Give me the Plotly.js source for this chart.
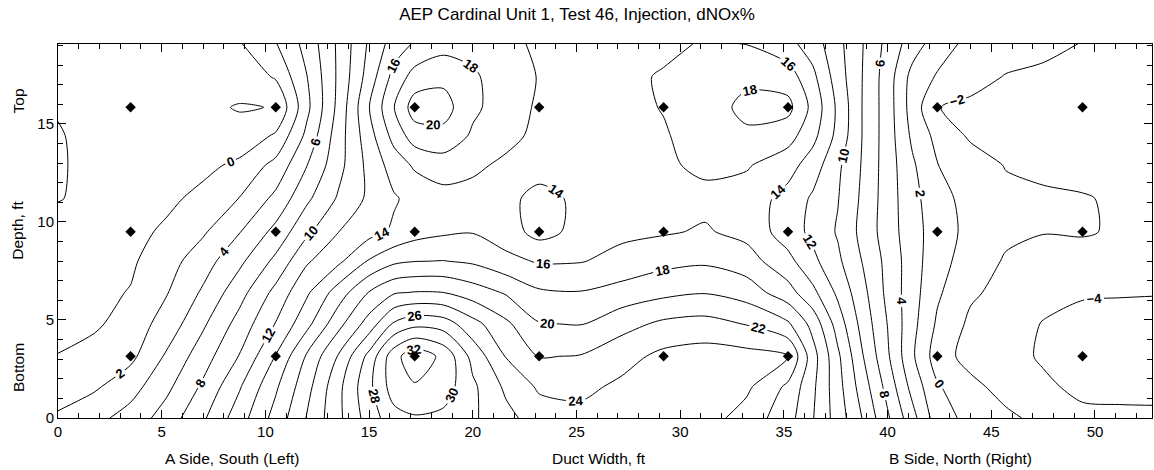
<!DOCTYPE html>
<html><head><meta charset="utf-8">
<script src="https://cdn.plot.ly/plotly-3.0.1.min.js"></script>
<style>html,body{margin:0;padding:0;background:#fff}#chart{width:1154px;height:470px}</style>
</head><body><div id="chart"></div>
<script>
const gridX = [0, 1.75, 3.5, 5.25, 7, 8.75, 10.5, 12, 13.5, 15, 16.2, 17.2, 18.6, 20, 21.6, 23.2, 25.2, 27.2, 29.2, 31.2, 33.2, 35.2, 36.4, 37.6, 38.8, 40, 41.2, 42.4, 44, 45.7, 47.5, 49.4, 51.2, 53];
const gridY = [0, 1.6, 3.15, 4.8, 6.4, 8, 9.5, 11.2, 12.9, 14.4, 15.85, 17.4, 19.1];

// dNOx% along each depth row (left to right)
const row_0_0   = [2.3, 3.4, 4.8, 6.9, 9.7, 13.1, 16.75, 20.1, 23.5, 26.9, 29.3, 29.8, 29.5, 28.3, 26.6, 25.0, 24.6, 25.1, 25.4, 24.8, 23.2, 20.8, 18.1, 15.1, 11.9, 8.3, 4.7, 0.9, -0.6, -1.55, -2.6, -3.6, -3.7, -3.8];
const row_1_6   = [1.0, 1.7, 3.2, 5.55, 8.35, 11.8, 15.7, 19.3, 23.4, 27.5, 31.0, 31.8, 31.0, 28.4, 25.6, 23.7, 23.5, 24.4, 25.2, 25.3, 24.4, 21.6, 18.4, 14.75, 11.0, 7.3, 3.3, 0.2, -1.4, -2.8, -3.7, -4.4, -4.4, -4.3];
const row_3_15  = [0.05, 0.85, 1.5, 4.3, 7.1, 10.1, 14.1, 18.25, 22.1, 26.6, 31.3, 33.3, 31.5, 27.3, 23.9, 21.9, 22.1, 23.3, 24.5, 24.9, 24.7, 24.1, 18.8, 14.4, 10.1, 6.3, 2.3, -1.0, -2.8, -3.4, -4.2, -4.8, -4.7, -4.5];
const row_4_8   = [-0.5, -0.35, 0.95, 2.8, 5.7, 8.75, 12.1, 15.4, 19.3, 22.9, 26.3, 27.4, 27.0, 24.7, 22.4, 20.1, 19.9, 21.3, 22.4, 22.7, 21.9, 20.3, 17.3, 13.1, 9.25, 5.95, 2.6, -0.3, -2.4, -3.0, -4.1, -4.6, -4.5, -4.4];
const row_6_4   = [-0.9, -0.5, 0.1, 1.9, 4.3, 7.25, 10.6, 13.7, 16.9, 20.1, 21.8, 22.1, 22.0, 21.0, 19.8, 18.3, 18.1, 18.8, 19.5, 19.9, 19.1, 16.8, 14.5, 11.6, 8.6, 5.5, 2.8, 0.3, -1.7, -2.6, -3.3, -3.8, -3.9, -3.95];
const row_8_0   = [-1.3, -0.9, -0.3, 1.2, 3.1, 5.55, 8.5, 11.75, 13.55, 16.2, 17.6, 17.95, 18.05, 17.7, 16.6, 15.8, 15.9, 16.6, 17.4, 17.7, 16.9, 14.6, 12.5, 10.4, 7.9, 5.4, 2.9, 0.7, -0.9, -2.2, -2.5, -2.7, -2.9, -3.0];
const row_9_5   = [-1.6, -1.2, -0.7, 0.4, 1.75, 3.9, 6.6, 9.6, 11.95, 13.3, 14.3, 15.2, 15.7, 15.9, 14.9, 13.3, 14.6, 15.6, 15.8, 16.2, 15.4, 13.0, 11.5, 9.8, 7.4, 5.0, 2.8, 1.0, -0.6, -1.6, -1.95, -1.85, -2.2, -2.6];
const row_11_2  = [-2.05, -1.75, -1.3, -0.5, 0.65, 2.05, 4.5, 7.6, 10.2, 12.4, 13.8, 14.6, 15.3, 15.3, 14.5, 13.4, 14.4, 15.2, 15.4, 15.5, 15.1, 13.3, 11.7, 10.1, 7.6, 5.0, 2.6, 0.8, -0.8, -1.5, -1.8, -1.9, -2.2, -2.5];
const row_12_9  = [-2.15, -1.6, -1.6, -1.1, -0.6, 0.5, 2.6, 5.95, 9.3, 12.6, 14.9, 16.3, 17.0, 16.4, 15.6, 14.8, 14.9, 15.3, 15.7, 16.4, 16.2, 14.8, 13.0, 10.4, 7.8, 5.0, 2.3, 0.05, -1.0, -2.1, -2.3, -2.5, -2.6, -2.6];
const row_14_4  = [-2.1, -1.6, -1.6, -1.4, -1.2, -1.5, 0.3, 4.5, 9.0, 13.2, 16.7, 19.0, 19.4, 17.7, 16.6, 15.5, 15.1, 15.3, 15.8, 17.0, 17.6, 16.8, 14.6, 11.4, 7.9, 5.0, 1.6, -0.6, -2.3, -2.5, -2.6, -2.7, -2.7, -2.7];
const row_15_85 = [-1.9, -1.6, -1.4, -1.5, -1.7, -2.1, -1.95, 3.5, 8.5, 13.95, 17.95, 21.0, 20.8, 18.4, 17.0, 15.7, 15.2, 15.4, 16.1, 16.9, 18.6, 18.6, 15.4, 11.6, 7.9, 5.0, 1.1, -1.95, -2.4, -2.6, -2.7, -2.8, -2.8, -2.8];
const row_17_4  = [-1.5, -1.3, -1.2, -1.2, -1.3, -1.3, 0.2, 3.95, 8.3, 12.9, 16.7, 18.8, 19.5, 18.3, 17.0, 15.9, 15.3, 15.5, 16.2, 16.8, 17.5, 17.0, 14.5, 11.0, 7.95, 5.0, 1.3, -0.2, -1.3, -2.1, -2.3, -2.5, -2.6, -2.6];
const row_19_1  = [-1.4, -1.2, -1.0, -0.9, -0.7, -0.15, 1.9, 4.7, 8.3, 12.3, 14.9, 16.2, 17.2, 17.3, 16.6, 15.6, 15.0, 15.1, 15.5, 16.2, 15.95, 14.6, 13.0, 10.6, 8.05, 5.4, 3.0, 1.0, -0.6, -1.1, -1.6, -2.05, -2.3, -2.4];
const zRows = [row_0_0, row_1_6, row_3_15, row_4_8, row_6_4, row_8_0, row_9_5, row_11_2, row_12_9, row_14_4, row_15_85, row_17_4, row_19_1];

// sampling-port positions (ft)
const sampleX = [3.5, 10.5, 17.2, 23.2, 29.2, 35.2, 42.4, 49.4];
const sampleY = [3.15, 9.5, 15.85];

// text
const titleText = 'AEP Cardinal Unit 1, Test 46, Injection, dNOx%';
const xLabels = ['A Side, South (Left)', 'Duct Width, ft', 'B Side, North (Right)'];
const xLabelPos = [8.4, 26.1, 43.5];
const yLabels = ['Bottom', 'Depth, ft', 'Top'];
const yLabelPos = [2.6, 9.6, 16.2];

const px = [], py = [];
sampleY.forEach(y => sampleX.forEach(x => { px.push(x); py.push(y); }));

const font = 'Arial, "Liberation Sans", sans-serif';

const traces = [
  {
    type: 'contour', x: gridX, y: gridY, z: zRows,
    autocontour: false,
    contours: { start: -4, end: 32, size: 2, coloring: 'lines', showlabels: true,
      labelfont: { family: font, size: 13, color: '#000', weight: 'bold' } },
    colorscale: [[0, '#000'], [1, '#000']],
    showscale: false,
    line: { width: 1, smoothing: 0.8 },
    hoverinfo: 'skip'
  },
  {
    type: 'scatter', mode: 'markers', x: px, y: py,
    marker: { symbol: 'diamond', size: 8, color: '#000' },
    hoverinfo: 'skip', showlegend: false
  }
];

const axisCommon = {
  ticks: 'inside', ticklen: 8, tickcolor: '#000', tickwidth: 1,
  mirror: 'allticks', showline: true, linecolor: '#000', linewidth: 1,
  showgrid: false, zeroline: false,
  tickfont: { family: font, size: 15, color: '#000' },
  tickmode: 'linear', tick0: 0, dtick: 5,
  minor: { dtick: 1, ticks: 'inside', ticklen: 5, tickcolor: '#000', showgrid: false }
};

const annotations = [];
xLabels.forEach((t, i) => annotations.push({
  text: t, xref: 'x', yref: 'paper', x: xLabelPos[i], y: -0.107,
  xanchor: 'center', yanchor: 'middle', showarrow: false,
  font: { family: font, size: 15.5, color: '#000' }
}));
yLabels.forEach((t, i) => annotations.push({
  text: t, xref: 'paper', yref: 'y', x: -0.0366, y: yLabelPos[i],
  xanchor: 'center', yanchor: 'middle', showarrow: false, textangle: -90,
  font: { family: font, size: 15.5, color: '#000' }
}));

const layout = {
  width: 1154, height: 470,
  margin: { l: 58, r: 2, t: 44, b: 52 },
  paper_bgcolor: '#fff', plot_bgcolor: '#fff',
  showlegend: false,
  title: { text: titleText, x: 0.5, xref: 'container', xanchor: 'center', y: 0.97, yref: 'container', yanchor: 'middle',
    font: { family: font, size: 17, color: '#000' } },
  xaxis: Object.assign({}, axisCommon, { range: [0, 52.75] }),
  yaxis: Object.assign({}, axisCommon, { range: [0, 19.08] }),
  annotations: annotations
};

Plotly.newPlot('chart', traces, layout, { staticPlot: true, displayModeBar: false });
</script>
</body></html>
